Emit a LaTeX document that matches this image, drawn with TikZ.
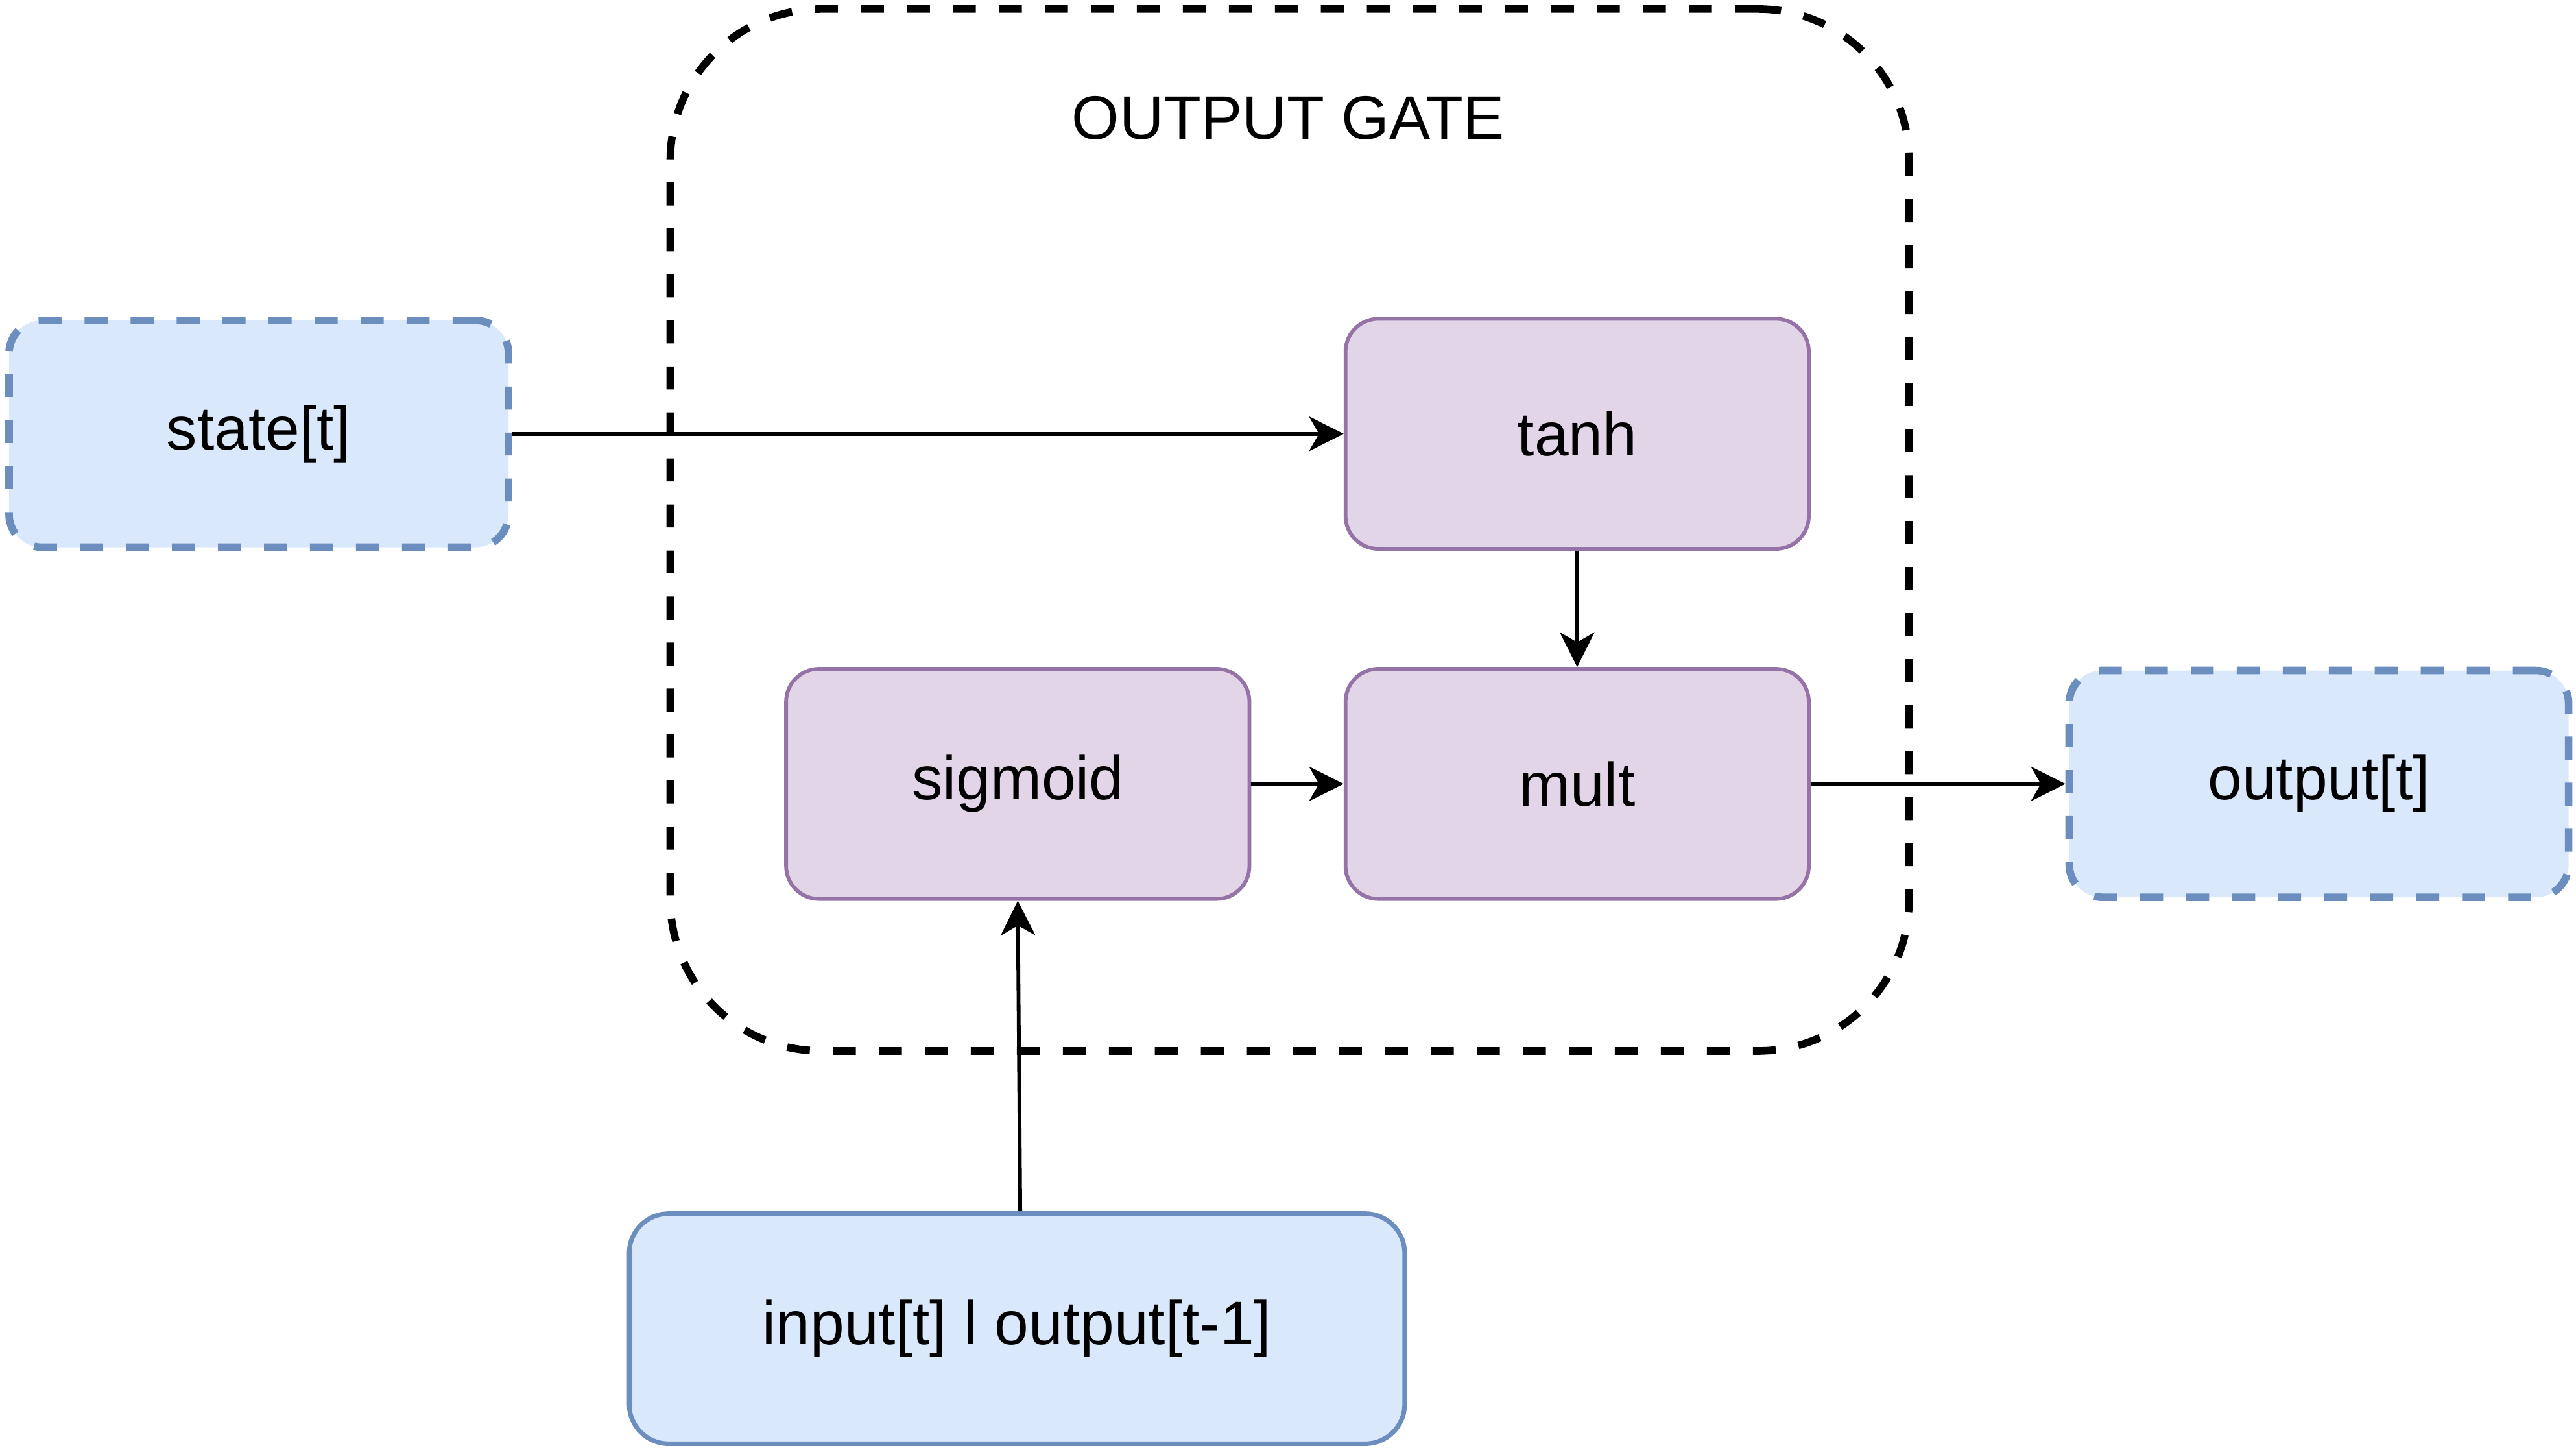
\documentclass[tikz,border=0pt]{standalone}
\usepackage{fontspec}
\setmainfont{Liberation Sans}
\usetikzlibrary{arrows.meta}
\definecolor{bluefill}{HTML}{DAE8FC}
\definecolor{bluedraw}{HTML}{6C8EBF}
\definecolor{purpfill}{HTML}{E1D5E7}
\definecolor{purpdraw}{HTML}{9673A6}
\tikzset{
  lbl/.style={font=\fontsize{18.7}{22}\selectfont, inner sep=0pt},
  purpbox/.style={lbl, draw=purpdraw, fill=purpfill, line width=1.15pt, rounded corners=10pt,
    minimum width=141pt, minimum height=70pt},
  dashblue/.style={lbl, draw=bluedraw, fill=bluefill, line width=2.3pt, rounded corners=10pt,
    dash pattern=on 7pt off 7pt, minimum width=152pt, minimum height=69pt},
  solidblue/.style={lbl, draw=bluedraw, fill=bluefill, line width=1.4pt, rounded corners=12pt,
    minimum width=236pt, minimum height=70pt},
  gatebox/.style={draw=black, line width=2.3pt, dash pattern=on 7pt off 7pt, rounded corners=46pt,
    minimum width=377pt, minimum height=317pt, inner sep=0pt},
  conn/.style={line width=1.15pt, -{Stealth[length=10.5pt,width=10.5pt,inset=3pt]}}
}
\begin{document}
\begin{tikzpicture}[x=0.5pt,y=-0.5pt]
\useasboundingbox (0,0) rectangle (1568,881);
\node[gatebox] (gate) at (785,322.5) {};
\node[lbl] (title) at (784,72) {OUTPUT GATE};
\node[dashblue] (state) at (157.5,264) {state[t]};
\node[purpbox] (tanh) at (960,264) {tanh};
\node[purpbox] (sigmoid) at (619.5,477) {sigmoid};
\node[purpbox] (mult) at (960,477) {mult};
\node[dashblue] (output) at (1411.5,477) {output[t]};
\node[solidblue] (input) at (619,808.5) {input[t] l output[t-1]};
\draw[conn] (state.east) -- (tanh.west);
\draw[conn] (tanh.south) -- (mult.north);
\draw[conn] (sigmoid.east) -- (mult.west);
\draw[conn] (mult.east) -- (output.west);
\draw[conn] ([xshift=1pt]input.north) -- (sigmoid.south);
\end{tikzpicture}
\end{document}
